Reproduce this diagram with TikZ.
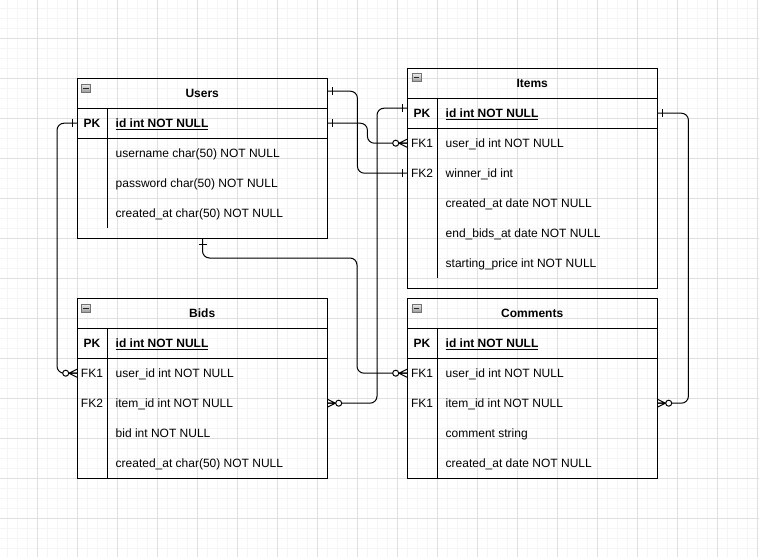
\documentclass[tikz,border=0pt]{standalone}
\usepackage{fontspec}
\setmainfont{Liberation Sans}
\usetikzlibrary{calc}
\newcommand\fs{\fontsize{12}{14}\selectfont}
\newcommand\ERrow[5]{%
  \node[row] (#1) at (#2,#3) {};
  \node[keytxt] (#1-k) at ([xshift=15pt]#1.west) {#4};
  \node[fldtxt] (#1-f) at ([xshift=38.5pt]#1.west) {#5};
}
\tikzset{
  gridminor/.style={draw=black!4, line width=1pt},
  gridmajor/.style={draw=black!12, line width=1pt},
  tbl/.style={draw=black, line width=1pt, minimum width=250pt, inner sep=0pt, anchor=north west},
  row/.style={minimum width=250pt, minimum height=30pt, inner sep=0pt, anchor=north west},
  keytxt/.style={font=\fs, inner sep=0pt, text height=8.6pt, text depth=0pt, anchor=center},
  fldtxt/.style={font=\fs, inner sep=0pt, text height=8.6pt, text depth=0pt, anchor=west},
  hdrtxt/.style={font=\fs\bfseries, inner sep=0pt, text height=8.6pt, text depth=0pt, anchor=center},
  sep/.style={line width=1pt},
  conn/.style={line width=1pt, rounded corners=7pt},
  icon/.style={draw=black!55, line width=0.8pt, minimum width=9pt, minimum height=8pt, inner sep=0pt, top color=black!8, bottom color=black!40},
  mone/.pic={\draw[line width=1pt] (5,-4) -- (5,4);},
  mzmany/.pic={\draw[line width=1pt] (0,-4) -- (8,0) -- (0,4) (0,0) -- (8,0);
               \draw[line width=1pt, fill=white] (11.3,0) circle (3);}
}
\begin{document}
\begin{tikzpicture}[x=1pt,y=-1pt]
\useasboundingbox (0,0) rectangle (759,557);
\fill[white] (0,0) rectangle (759,557);
\foreach \x in {7,17,...,757} \draw[gridminor] (\x,0) -- (\x,557);
\foreach \y in {8,18,...,548} \draw[gridminor] (0,\y) -- (759,\y);
\foreach \x in {37,77,...,757} \draw[gridmajor] (\x,0) -- (\x,557);
\foreach \y in {38,78,...,518} \draw[gridmajor] (0,\y) -- (759,\y);

% ---------- Users ----------
\node[tbl, minimum height=160pt] (users) at (77,78) {};
\node[row] (u-hdr) at (77,78) {};
\node[hdrtxt] (u-t) at (u-hdr.center) {Users};
\node[icon] (u-ic) at (86.2,88.2) {};
\draw[line width=1.3pt, black!85] ([xshift=2pt]u-ic.west) -- ([xshift=-2pt]u-ic.east);
\ERrow{u-id}{77}{108}{\bfseries PK}{\bfseries\underline{id int NOT NULL}}
\ERrow{u-f1}{77}{138}{}{username char(50) NOT NULL}
\ERrow{u-f2}{77}{168}{}{password char(50) NOT NULL}
\ERrow{u-f3}{77}{198}{}{created\_at char(50) NOT NULL}
\draw[sep] (u-hdr.south west) -- (u-hdr.south east);
\draw[sep] (u-id.south west) -- (u-id.south east);
\draw[sep] ([xshift=30pt]u-id.north west) -- ([xshift=30pt]u-f3.south west);

% ---------- Items ----------
\node[tbl, minimum height=220pt] (items) at (407,68) {};
\node[row] (i-hdr) at (407,68) {};
\node[hdrtxt] (i-t) at (i-hdr.center) {Items};
\node[icon] (i-ic) at (416.4,77.5) {};
\draw[line width=1.3pt, black!85] ([xshift=2pt]i-ic.west) -- ([xshift=-2pt]i-ic.east);
\ERrow{i-id}{407}{98}{\bfseries PK}{\bfseries\underline{id int NOT NULL}}
\ERrow{i-fk1}{407}{128}{FK1}{user\_id int NOT NULL}
\ERrow{i-fk2}{407}{158}{FK2}{winner\_id int}
\ERrow{i-f3}{407}{188}{}{created\_at date NOT NULL}
\ERrow{i-f4}{407}{218}{}{end\_bids\_at date NOT NULL}
\ERrow{i-f5}{407}{248}{}{starting\_price int NOT NULL}
\draw[sep] (i-hdr.south west) -- (i-hdr.south east);
\draw[sep] (i-id.south west) -- (i-id.south east);
\draw[sep] ([xshift=30pt]i-id.north west) -- ([xshift=30pt]i-f5.south west);

% ---------- Bids ----------
\node[tbl, minimum height=180pt] (bids) at (77,298) {};
\node[row] (b-hdr) at (77,298) {};
\node[hdrtxt] (b-t) at (b-hdr.center) {Bids};
\node[icon] (b-ic) at (86.2,308.2) {};
\draw[line width=1.3pt, black!85] ([xshift=2pt]b-ic.west) -- ([xshift=-2pt]b-ic.east);
\ERrow{b-id}{77}{328}{\bfseries PK}{\bfseries\underline{id int NOT NULL}}
\ERrow{b-fk1}{77}{358}{FK1}{user\_id int NOT NULL}
\ERrow{b-fk2}{77}{388}{FK2}{item\_id int NOT NULL}
\ERrow{b-f3}{77}{418}{}{bid int NOT NULL}
\ERrow{b-f4}{77}{448}{}{created\_at char(50) NOT NULL}
\draw[sep] (b-hdr.south west) -- (b-hdr.south east);
\draw[sep] (b-id.south west) -- (b-id.south east);
\draw[sep] ([xshift=30pt]b-id.north west) -- ([xshift=30pt]b-f4.south west);

% ---------- Comments ----------
\node[tbl, minimum height=180pt] (comments) at (407,298) {};
\node[row] (c-hdr) at (407,298) {};
\node[hdrtxt] (c-t) at (c-hdr.center) {Comments};
\node[icon] (c-ic) at (416.4,308.2) {};
\draw[line width=1.3pt, black!85] ([xshift=2pt]c-ic.west) -- ([xshift=-2pt]c-ic.east);
\ERrow{c-id}{407}{328}{\bfseries PK}{\bfseries\underline{id int NOT NULL}}
\ERrow{c-fk1}{407}{358}{FK1}{user\_id int NOT NULL}
\ERrow{c-fk2}{407}{388}{FK1}{item\_id int NOT NULL}
\ERrow{c-f3}{407}{418}{}{comment string}
\ERrow{c-f4}{407}{448}{}{created\_at date NOT NULL}
\draw[sep] (c-hdr.south west) -- (c-hdr.south east);
\draw[sep] (c-id.south west) -- (c-id.south east);
\draw[sep] ([xshift=30pt]c-id.north west) -- ([xshift=30pt]c-f4.south west);

% ---------- connectors ----------
\coordinate (uTop) at ($(u-hdr.east)+(0,-2)$);
\coordinate (iPKl) at ($(i-id.west)+(0,-5)$);
\coordinate (wp) at (357,258);

\draw[conn] (u-id.east) -- ++(40,0) |- (i-fk1.west);
\draw[conn] (uTop) -- ++(30,0) |- (i-fk2.west);
\draw[conn] (iPKl) -- ++(-30,0) |- (b-fk2.east);
\draw[conn] (users.south) |- (wp) |- (c-fk1.west);
\draw[conn] (u-id.west) -- ++(-20,0) |- (b-fk1.west);
\draw[conn] (i-id.east) -- ++(31,0) |- (c-fk2.east);

\pic at (u-id.east) {mone};
\pic[rotate=180] at (i-fk1.west) {mzmany};
\pic at (uTop) {mone};
\pic[rotate=180] at (i-fk2.west) {mone};
\pic[rotate=180] at (iPKl) {mone};
\pic at (b-fk2.east) {mzmany};
\pic[rotate=-90] at (users.south) {mone};
\pic[rotate=180] at (c-fk1.west) {mzmany};
\pic[rotate=180] at (u-id.west) {mone};
\pic[rotate=180] at (b-fk1.west) {mzmany};
\pic at (i-id.east) {mone};
\pic at (c-fk2.east) {mzmany};
\end{tikzpicture}
\end{document}
